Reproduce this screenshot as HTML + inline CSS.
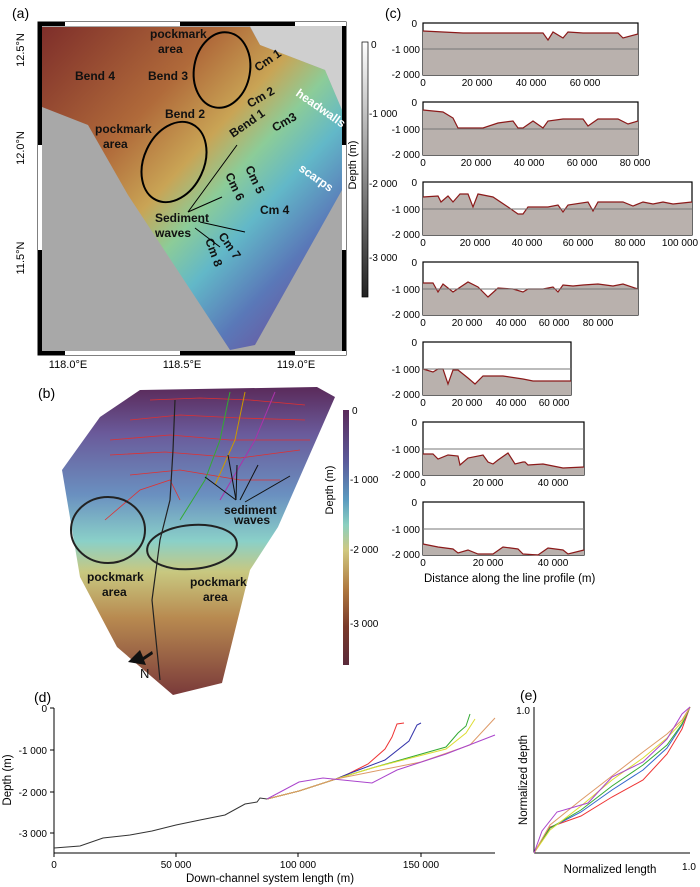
<!DOCTYPE html>
<html><head><meta charset="utf-8"><style>
body{margin:0;background:#fff;}
svg{display:block;font-family:"Liberation Sans",Arial,sans-serif;}
</style></head><body>
<svg width="700" height="887" viewBox="0 0 700 887" xmlns="http://www.w3.org/2000/svg">
<defs>
<linearGradient id="ga" x1="0" y1="0" x2="1" y2="1">
<stop offset="0" stop-color="#7e2e2a"/><stop offset="0.3" stop-color="#b06a3a"/><stop offset="0.45" stop-color="#c9a455"/>
<stop offset="0.55" stop-color="#8ccc98"/><stop offset="0.65" stop-color="#62b8c8"/><stop offset="0.78" stop-color="#5a78b8"/><stop offset="1" stop-color="#7a3a8a"/></linearGradient>
<linearGradient id="gb" x1="0" y1="0" x2="0" y2="1">
<stop offset="0" stop-color="#5a2a5a"/><stop offset="0.15" stop-color="#6a5a9a"/><stop offset="0.35" stop-color="#6a90c0"/><stop offset="0.5" stop-color="#8ad0c8"/>
<stop offset="0.6" stop-color="#c8c880"/><stop offset="0.75" stop-color="#b88a50"/><stop offset="1" stop-color="#7a3a3a"/></linearGradient>
<linearGradient id="cbb" x1="0" y1="0" x2="0" y2="1">
<stop offset="0" stop-color="#5a2a5a"/><stop offset="0.2" stop-color="#5a5a9a"/><stop offset="0.35" stop-color="#5a9ac0"/><stop offset="0.45" stop-color="#8ad0c0"/>
<stop offset="0.55" stop-color="#d0c880"/><stop offset="0.7" stop-color="#b07a40"/><stop offset="0.85" stop-color="#7a3a2a"/><stop offset="1" stop-color="#5a2a3a"/></linearGradient>
<linearGradient id="cba" x1="0" y1="0" x2="0" y2="1"><stop offset="0" stop-color="#fff"/><stop offset="1" stop-color="#222"/></linearGradient>
</defs>

<!-- Panel a -->
<text x="12" y="18" font-size="14">(a)</text>
<rect x="38" y="22" width="308" height="333" fill="#fff" stroke="#000" stroke-width="1"/>
<rect x="42" y="26" width="300" height="325" fill="#a8a8a8"/>
<polygon points="250,26 342,26 342,110 325,70 260,45" fill="#cfcfcf"/>
<polygon points="42,27 250,27 260,45 325,70 342,110 342,190 255,345 230,350 128,195 88,125 42,107" fill="url(#ga)"/>
<rect x="38" y="22" width="4" height="333" fill="#000"/><rect x="342" y="22" width="4" height="333" fill="#000"/>
<rect x="38" y="22" width="308" height="4" fill="#000"/><rect x="38" y="351" width="308" height="4" fill="#000"/>
<rect x="65" y="22" width="115" height="4" fill="#fff"/><rect x="295" y="22" width="51" height="4" fill="#fff"/>
<rect x="65" y="351" width="115" height="4" fill="#fff"/><rect x="295" y="351" width="51" height="4" fill="#fff"/>
<rect x="38" y="145" width="4" height="105" fill="#fff"/><rect x="342" y="145" width="4" height="105" fill="#fff"/>
<text transform="translate(24,50) rotate(-90)" font-size="11" text-anchor="middle">12.5°N</text>
<text transform="translate(24,148) rotate(-90)" font-size="11" text-anchor="middle">12.0°N</text>
<text transform="translate(24,258) rotate(-90)" font-size="11" text-anchor="middle">11.5°N</text>
<text x="68" y="368" font-size="11" text-anchor="middle">118.0°E</text>
<text x="182" y="368" font-size="11" text-anchor="middle">118.5°E</text>
<text x="296" y="368" font-size="11" text-anchor="middle">119.0°E</text>
<g font-size="12" font-weight="bold" fill="#111">
<text x="75" y="80">Bend 4</text><text x="148" y="80">Bend 3</text><text x="165" y="118">Bend 2</text>
<text x="150" y="38">pockmark</text><text x="158" y="53">area</text>
<text x="95" y="133">pockmark</text><text x="103" y="148">area</text>
<text x="155" y="222">Sediment</text><text x="155" y="237">waves</text>
<text x="260" y="214">Cm 4</text>
<text transform="translate(258,72) rotate(-35)">Cm 1</text>
<text transform="translate(250,108) rotate(-30)">Cm 2</text>
<text transform="translate(275,132) rotate(-30)">Cm3</text>
<text transform="translate(233,138) rotate(-35)">Bend 1</text>
<text transform="translate(225,175) rotate(65)">Cm 6</text>
<text transform="translate(245,168) rotate(65)">Cm 5</text>
<text transform="translate(218,236) rotate(55)">Cm 7</text>
<text transform="translate(205,240) rotate(70)">Cm 8</text>
</g>
<g font-size="12" font-weight="bold" fill="#fff">
<text transform="translate(295,95) rotate(35)">headwalls</text>
<text transform="translate(298,170) rotate(35)">scarps</text>
</g>
<g fill="none" stroke="#000" stroke-width="2">
<ellipse cx="222" cy="70" rx="28" ry="38" transform="rotate(10 222 70)"/>
<ellipse cx="174" cy="162" rx="30" ry="42" transform="rotate(25 174 162)"/>
</g>
<g stroke="#000" stroke-width="1"><line x1="188" y1="212" x2="237" y2="145"/><line x1="188" y1="212" x2="222" y2="197"/><line x1="200" y1="222" x2="245" y2="232"/><line x1="195" y1="228" x2="220" y2="247"/></g>
<rect x="362" y="42" width="6" height="255" fill="url(#cba)" stroke="#000" stroke-width="0.7"/>
<g font-size="10"><text x="371" y="48">0</text><text x="369" y="117">-1 000</text><text x="369" y="187">-2 000</text><text x="369" y="261">-3 000</text></g>
<text transform="translate(356,165) rotate(-90)" font-size="11" text-anchor="middle">Depth (m)</text>

<!-- Panel c -->
<text x="385" y="18" font-size="14">(c)</text>
<g font-size="10">
<g transform="translate(423,23)">
<rect width="215" height="52" fill="#fff" stroke="#000" stroke-width="1.2"/>
<polygon points="0,52 0,8 40,10 80,10 120,10 125,17 130,9 140,15 145,9 160,10 195,10 200,15 215,11 215,52" fill="#b9b1ad"/>
<polyline points="0,8 40,10 80,10 120,10 125,17 130,9 140,15 145,9 160,10 195,10 200,15 215,11" fill="none" stroke="#8b1a1a" stroke-width="1.2"/>
<line x1="0" y1="26" x2="215" y2="26" stroke="#777"/>
<text x="-6" y="4" text-anchor="end">0</text><text x="-3" y="30" text-anchor="end">-1 000</text><text x="-3" y="55" text-anchor="end">-2 000</text>
<text x="0" y="63" text-anchor="middle">0</text><text x="54" y="63" text-anchor="middle">20 000</text><text x="108" y="63" text-anchor="middle">40 000</text><text x="162" y="63" text-anchor="middle">60 000</text></g>
<g transform="translate(423,102)">
<rect width="215" height="53" fill="#fff" stroke="#000" stroke-width="1.2"/>
<polygon points="0,53 0,8 20,10 30,16 35,26 45,26 60,26 75,21 90,19 95,26 100,26 110,19 120,26 125,19 140,17 160,17 165,24 175,17 195,17 205,22 215,19 215,53" fill="#b9b1ad"/>
<polyline points="0,8 20,10 30,16 35,26 45,26 60,26 75,21 90,19 95,26 100,26 110,19 120,26 125,19 140,17 160,17 165,24 175,17 195,17 205,22 215,19" fill="none" stroke="#8b1a1a" stroke-width="1.2"/>
<line x1="0" y1="27" x2="215" y2="27" stroke="#777"/>
<text x="-6" y="4" text-anchor="end">0</text><text x="-3" y="31" text-anchor="end">-1 000</text><text x="-3" y="56" text-anchor="end">-2 000</text>
<text x="0" y="64" text-anchor="middle">0</text><text x="53" y="64" text-anchor="middle">20 000</text><text x="106" y="64" text-anchor="middle">40 000</text><text x="159" y="64" text-anchor="middle">60 000</text><text x="212" y="64" text-anchor="middle">80 000</text></g>
<g transform="translate(423,182)">
<rect width="269" height="53" fill="#fff" stroke="#000" stroke-width="1.2"/>
<polygon points="0,53 0,15 15,14 18,20 25,14 30,20 37,12 45,12 50,25 55,12 70,15 85,25 95,32 100,32 105,25 115,25 125,25 135,23 140,30 145,23 165,20 170,29 175,20 185,20 200,20 210,24 220,20 230,22 240,20 250,22 269,20 269,53" fill="#b9b1ad"/>
<polyline points="0,15 15,14 18,20 25,14 30,20 37,12 45,12 50,25 55,12 70,15 85,25 95,32 100,32 105,25 115,25 125,25 135,23 140,30 145,23 165,20 170,29 175,20 185,20 200,20 210,24 220,20 230,22 240,20 250,22 269,20" fill="none" stroke="#8b1a1a" stroke-width="1.2"/>
<line x1="0" y1="27" x2="269" y2="27" stroke="#777"/>
<text x="-6" y="4" text-anchor="end">0</text><text x="-3" y="31" text-anchor="end">-1 000</text><text x="-3" y="56" text-anchor="end">-2 000</text>
<text x="0" y="64" text-anchor="middle">0</text><text x="52" y="64" text-anchor="middle">20 000</text><text x="104" y="64" text-anchor="middle">40 000</text><text x="155" y="64" text-anchor="middle">60 000</text><text x="207" y="64" text-anchor="middle">80 000</text><text x="257" y="64" text-anchor="middle">100 000</text></g>
<g transform="translate(423,262)">
<rect width="215" height="53" fill="#fff" stroke="#000" stroke-width="1.2"/>
<polygon points="0,53 0,21 10,21 15,30 20,22 30,30 45,20 55,25 65,35 75,26 90,27 100,30 105,27 120,27 130,25 135,30 140,23 150,24 160,23 175,22 190,24 200,22 215,27 215,53" fill="#b9b1ad"/>
<polyline points="0,21 10,21 15,30 20,22 30,30 45,20 55,25 65,35 75,26 90,27 100,30 105,27 120,27 130,25 135,30 140,23 150,24 160,23 175,22 190,24 200,22 215,27" fill="none" stroke="#8b1a1a" stroke-width="1.2"/>
<line x1="0" y1="27" x2="215" y2="27" stroke="#777"/>
<text x="-6" y="4" text-anchor="end">0</text><text x="-3" y="31" text-anchor="end">-1 000</text><text x="-3" y="56" text-anchor="end">-2 000</text>
<text x="0" y="64" text-anchor="middle">0</text><text x="44" y="64" text-anchor="middle">20 000</text><text x="88" y="64" text-anchor="middle">40 000</text><text x="131" y="64" text-anchor="middle">60 000</text><text x="175" y="64" text-anchor="middle">80 000</text></g>
<g transform="translate(423,342)">
<rect width="148" height="53" fill="#fff" stroke="#000" stroke-width="1.2"/>
<polygon points="0,27 10,30 15,27 20,27 25,42 30,28 35,28 45,36 52,42 60,34 80,34 100,37 110,39 120,39 130,39 148,39 148,53 0,53" fill="#b9b1ad"/>
<polyline points="0,27 10,30 15,27 20,27 25,42 30,28 35,28 45,36 52,42 60,34 80,34 100,37 110,39 120,39 130,39 148,39" fill="none" stroke="#8b1a1a" stroke-width="1.2"/>
<line x1="0" y1="27" x2="148" y2="27" stroke="#777"/>
<text x="-6" y="4" text-anchor="end">0</text><text x="-3" y="31" text-anchor="end">-1 000</text><text x="-3" y="56" text-anchor="end">-2 000</text>
<text x="0" y="64" text-anchor="middle">0</text><text x="44" y="64" text-anchor="middle">20 000</text><text x="88" y="64" text-anchor="middle">40 000</text><text x="131" y="64" text-anchor="middle">60 000</text></g>
<g transform="translate(423,422)">
<rect width="161" height="53" fill="#fff" stroke="#000" stroke-width="1.2"/>
<polygon points="0,32 10,32 15,37 25,33 35,34 37,43 45,36 60,33 65,40 70,42 75,38 85,31 92,42 100,40 102,40 105,43 120,42 130,44 140,46 161,45 161,53 0,53" fill="#b9b1ad"/>
<polyline points="0,32 10,32 15,37 25,33 35,34 37,43 45,36 60,33 65,40 70,42 75,38 85,31 92,42 100,40 102,40 105,43 120,42 130,44 140,46 161,45" fill="none" stroke="#8b1a1a" stroke-width="1.2"/>
<line x1="0" y1="27" x2="161" y2="27" stroke="#777"/>
<text x="-6" y="4" text-anchor="end">0</text><text x="-3" y="31" text-anchor="end">-1 000</text><text x="-3" y="56" text-anchor="end">-2 000</text>
<text x="0" y="64" text-anchor="middle">0</text><text x="65" y="64" text-anchor="middle">20 000</text><text x="130" y="64" text-anchor="middle">40 000</text></g>
<g transform="translate(423,502)">
<rect width="161" height="53" fill="#fff" stroke="#000" stroke-width="1.2"/>
<polygon points="0,42 15,45 30,47 35,51 45,48 55,52 70,52 80,45 95,47 100,52 115,53 125,46 140,48 145,52 161,48 161,53 0,53" fill="#b9b1ad"/>
<polyline points="0,42 15,45 30,47 35,51 45,48 55,52 70,52 80,45 95,47 100,52 115,53 125,46 140,48 145,52 161,48" fill="none" stroke="#8b1a1a" stroke-width="1.2"/>
<line x1="0" y1="27" x2="161" y2="27" stroke="#777"/>
<text x="-6" y="4" text-anchor="end">0</text><text x="-3" y="31" text-anchor="end">-1 000</text><text x="-3" y="56" text-anchor="end">-2 000</text>
<text x="0" y="64" text-anchor="middle">0</text><text x="65" y="64" text-anchor="middle">20 000</text><text x="130" y="64" text-anchor="middle">40 000</text></g>
</g>
<text x="424" y="582" font-size="11.5">Distance along the line profile (m)</text>

<!-- Panel b -->
<text x="38" y="398" font-size="14">(b)</text>
<polygon points="62,470 100,417 140,390 317,387 335,397 278,527 250,570 222,683 173,695 117,647 80,577" fill="url(#gb)"/>
<g fill="none" stroke="#e03030" stroke-width="0.8">
<polyline points="150,400 200,398 250,400 305,405"/><polyline points="130,420 180,415 240,418 305,420"/>
<polyline points="110,440 170,435 230,440 310,440"/><polyline points="110,455 165,452 240,458 300,450"/>
<polyline points="130,475 180,470 240,480 280,480"/><polyline points="105,520 140,490 170,480 180,500"/>
</g>
<polyline points="175,400 173,450 170,500 160,540 152,600 160,680" fill="none" stroke="#222" stroke-width="1.2"/>
<g fill="none" stroke-width="1"><polyline points="230,392 220,440 205,480 180,520" stroke="#3a3"/><polyline points="245,392 235,440 215,485" stroke="#c90"/><polyline points="275,392 255,440 220,500" stroke="#a3a"/></g>
<g fill="none" stroke="#222" stroke-width="2"><ellipse cx="108" cy="530" rx="37" ry="33"/><ellipse cx="192" cy="547" rx="45" ry="22" transform="rotate(-5 192 547)"/></g>
<g font-size="12" font-weight="bold" fill="#111">
<text x="87" y="581">pockmark</text><text x="102" y="596">area</text>
<text x="190" y="586">pockmark</text><text x="203" y="601">area</text>
<text x="224" y="514">sediment</text><text x="234" y="524">waves</text>
<text x="140" y="678" font-weight="normal" font-size="13">N</text>
</g>
<polygon points="128,662 140,650 143,657 152,651 153,654 144,660 146,665" fill="#111"/>
<g stroke="#111" stroke-width="1"><line x1="236" y1="500" x2="205" y2="477"/><line x1="236" y1="500" x2="228" y2="455"/><line x1="236" y1="500" x2="237" y2="465"/><line x1="240" y1="500" x2="258" y2="465"/><line x1="245" y1="502" x2="290" y2="476"/></g>
<rect x="343" y="410" width="6" height="255" fill="url(#cbb)"/>
<g font-size="10"><text x="352" y="414">0</text><text x="350" y="483">-1 000</text><text x="350" y="553">-2 000</text><text x="350" y="627">-3 000</text></g>
<text transform="translate(333,490) rotate(-90)" font-size="11" text-anchor="middle">Depth (m)</text>

<!-- Panel d -->
<text x="34" y="702" font-size="14">(d)</text>
<g stroke="#000" stroke-width="1" fill="none"><line x1="54" y1="708" x2="54" y2="853"/><line x1="54" y1="853" x2="495" y2="853"/></g>
<g stroke="#000" stroke-width="1"><line x1="50" y1="708" x2="54" y2="708"/><line x1="50" y1="750" x2="54" y2="750"/><line x1="50" y1="792" x2="54" y2="792"/><line x1="50" y1="833" x2="54" y2="833"/>
<line x1="54" y1="853" x2="54" y2="857"/><line x1="176" y1="853" x2="176" y2="857"/><line x1="298" y1="853" x2="298" y2="857"/><line x1="421" y1="853" x2="421" y2="857"/></g>
<g font-size="10" text-anchor="end"><text x="47" y="712">0</text><text x="47" y="754">-1 000</text><text x="47" y="796">-2 000</text><text x="47" y="837">-3 000</text></g>
<g font-size="10" text-anchor="middle"><text x="54" y="868">0</text><text x="176" y="868">50 000</text><text x="298" y="868">100 000</text><text x="421" y="868">150 000</text></g>
<text x="270" y="882" font-size="11.5" text-anchor="middle">Down-channel system length (m)</text>
<text transform="translate(11,780) rotate(-90)" font-size="11.5" text-anchor="middle">Depth (m)</text>
<g fill="none" stroke-width="1">
<polyline stroke="#333" points="54,848 80,846 103,838 130,835 152,831 176,825 200,820 225,815 245,804 257,802 260,798 267,799"/>
<polyline stroke="#e33" points="267,799 299,791 336,779 348,774 368,764 385,749 392,737 397,724 404,723"/>
<polyline stroke="#33a" points="267,799 299,791 336,779 348,774 385,760 409,741 417,725 421,723"/>
<polyline stroke="#3a3" points="267,799 299,791 336,779 372,768 446,747 458,733 466,726 470,714"/>
<polyline stroke="#dd3" points="267,799 299,791 336,779 372,768 446,749 466,733 475,719"/>
<polyline stroke="#d96" points="267,799 299,791 336,779 421,762 470,745 495,718"/>
<polyline stroke="#a4c" points="267,799 299,782 323,778 372,783 397,770 446,754 495,735"/>
</g>

<!-- Panel e -->
<text x="520" y="700" font-size="14">(e)</text>
<g stroke="#000" stroke-width="1" fill="none"><line x1="534" y1="707" x2="534" y2="853"/><line x1="534" y1="853" x2="690" y2="853"/></g>
<text x="530" y="714" font-size="10" text-anchor="end">1.0</text>
<text x="689" y="870" font-size="10" text-anchor="middle">1.0</text>
<text x="610" y="873" font-size="11.5" text-anchor="middle">Normalized length</text>
<text transform="translate(527,780) rotate(-90)" font-size="11.5" text-anchor="middle">Normalized depth</text>
<g fill="none" stroke-width="1">
<polyline stroke="#e33" points="534,853 550,827 581,816 612,797 643,780 667,754 682,729 690,707"/>
<polyline stroke="#36c" points="534,853 550,828 581,812 612,790 643,770 667,748 682,725 690,707"/>
<polyline stroke="#3a3" points="534,853 550,828 581,810 612,786 643,765 667,745 682,724 690,707"/>
<polyline stroke="#dd3" points="534,853 550,830 581,806 612,780 643,758 667,738 682,722 690,707"/>
<polyline stroke="#d96" points="534,853 550,825 581,800 612,776 643,752 667,734 682,720 690,707"/>
<polyline stroke="#a4c" points="534,853 542,831 557,812 588,803 612,777 643,762 667,739 682,714 690,707"/>
</g>
</svg>
</body></html>
